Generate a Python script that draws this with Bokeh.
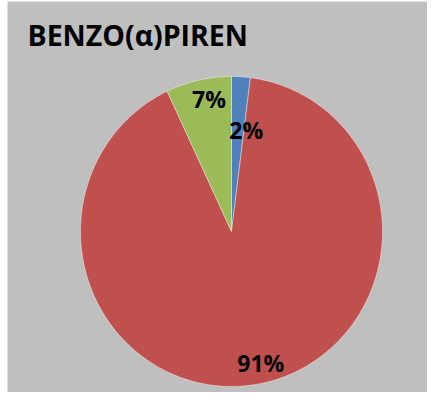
import numpy as np
from bokeh.plotting import figure
from bokeh.models import Range1d, ColumnDataSource
from bokeh.core.properties import value
from bokeh.embed import file_html
from bokeh.resources import INLINE

# ---- data ----
title_text = "BENZO(α)PIREN"
categories = ["A", "B", "C"]
shares = [2, 91, 7]
labels = ["2%", "91%", "7%"]
colors = ["#4F81BD", "#C0504D", "#9BBB59"]

# ---- layout (pixel-like data space) ----
W, H = 420, 391
cx, cy = 224, 230
rx, ry = 151, 155
# label placement: radial fraction and angle shift (deg, clockwise from top)
label_rfrac = [0.665, 0.868, 0.865]
label_shift = [4.8, -3.9, 2.7]

p = figure(width=427, height=392, output_backend="svg", toolbar_location=None,
           x_range=Range1d(0, W), y_range=Range1d(H, 0),
           min_border_left=7, min_border_top=1, min_border_right=0, min_border_bottom=0)
p.axis.visible = False
p.grid.visible = False
p.outline_line_color = None
p.background_fill_color = "#BFBFBF"
p.border_fill_color = "white"

total = float(sum(shares))
fr = np.array(shares) / total
ends = np.cumsum(fr) * 2 * np.pi
starts = np.concatenate([[0], ends[:-1]])

xs, ys = [], []
for a0, a1 in zip(starts, ends):
    t = np.linspace(a0, a1, max(int((a1 - a0) * 60), 4))
    xs.append([cx] + list(cx + rx * np.sin(t)) + [cx])
    ys.append([cy] + list(cy - ry * np.cos(t)) + [cy])

src = ColumnDataSource(dict(xs=xs, ys=ys, color=colors, cat=categories))
p.patches("xs", "ys", source=src, fill_color="color", line_color="white",
          line_width=0.8, line_alpha=0.5)

mids = (starts + ends) / 2
lx, ly = [], []
for m, rf, sh in zip(mids, label_rfrac, label_shift):
    a = m + np.deg2rad(sh)
    lx.append(cx + rf * rx * np.sin(a))
    ly.append(cy - rf * ry * np.cos(a))
p.text(x=lx, y=ly, text=labels, text_align="center", text_baseline="middle",
       text_font=value("Open Sans"), text_font_style="bold", text_font_size="23px",
       text_color="black")

p.text(x=[20], y=[33], text=[title_text], text_align="left", text_baseline="alphabetic",
       text_font=value("Open Sans"), text_font_style="bold", text_font_size="28.5px",
       text_color="black")

open("out.html", "w").write(file_html(p, INLINE))
